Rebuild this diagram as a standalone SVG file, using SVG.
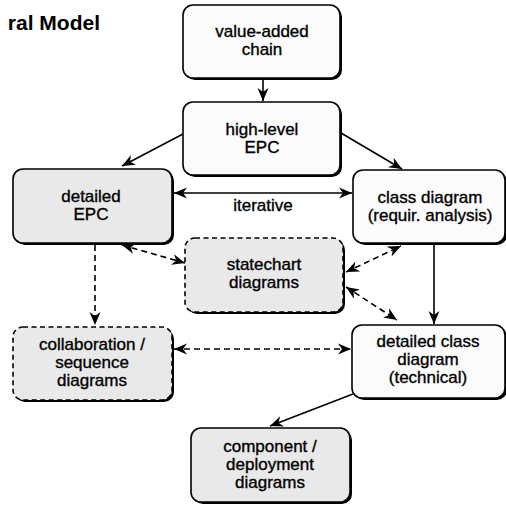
<svg xmlns="http://www.w3.org/2000/svg" width="506" height="506" viewBox="0 0 506 506">
<style>
.sh{fill:#000}
.bx{stroke:#000;stroke-width:1.6}
.w{fill:#fbfbfb}
.g{fill:#e9e9e9}
.d{stroke-dasharray:5 3.5}
.t{font-family:"Liberation Sans",Arial,sans-serif;font-size:17px;text-anchor:middle;fill:#000;stroke:#000;stroke-width:0.35}
.c{stroke:#000;stroke-width:1.6;fill:none}
.cd{stroke-dasharray:6 4}
</style>
<defs>
<marker id="ah" markerUnits="userSpaceOnUse" markerWidth="14" markerHeight="12" viewBox="0 0 14 12" refX="13" refY="6" orient="auto-start-reverse">
<path d="M0,0.5 L13,6 L0,11.5 L4,6 z" fill="#000"/>
</marker>
</defs>
<rect width="506" height="506" fill="#fff"/>
<text x="100" y="30" style="font-family:'Liberation Sans',Arial,sans-serif;font-size:21px;font-weight:bold;text-anchor:end">ral Model</text>

<g id="connectors">
<line class="c" x1="263" y1="79" x2="263" y2="101" marker-end="url(#ah)"/>
<line class="c" x1="183" y1="134" x2="122" y2="166" marker-end="url(#ah)"/>
<line class="c" x1="341" y1="133" x2="402" y2="169" marker-end="url(#ah)"/>
<line class="c" x1="174" y1="193" x2="352" y2="193" marker-start="url(#ah)" marker-end="url(#ah)"/>
<line class="c" x1="434" y1="245" x2="434" y2="324" marker-end="url(#ah)"/>
<line class="c cd" x1="122" y1="245" x2="185" y2="263" marker-start="url(#ah)" marker-end="url(#ah)"/>
<line class="c cd" x1="346" y1="272" x2="401" y2="246" marker-start="url(#ah)" marker-end="url(#ah)"/>
<line class="c cd" x1="346" y1="287" x2="397" y2="320" marker-start="url(#ah)" marker-end="url(#ah)"/>
<line class="c cd" x1="95" y1="245" x2="95" y2="325" marker-end="url(#ah)"/>
<line class="c cd" x1="174" y1="349" x2="351" y2="349" marker-start="url(#ah)" marker-end="url(#ah)"/>
<line class="c" x1="353" y1="394" x2="270" y2="426" marker-end="url(#ah)"/>
<text class="t" x="263" y="211">iterative</text>
</g>

<g id="value-added-chain">
<rect class="sh" x="185" y="7" width="157" height="73" rx="10"/>
<rect class="bx w" x="183" y="5" width="157" height="73" rx="10"/>
<text class="t" x="262" y="37">value-added</text>
<text class="t" x="262" y="55">chain</text>
</g>

<g id="high-level-epc">
<rect class="sh" x="185" y="104" width="157" height="73" rx="10"/>
<rect class="bx w" x="183" y="102" width="157" height="73" rx="10"/>
<text class="t" x="262" y="135">high-level</text>
<text class="t" x="262" y="153">EPC</text>
</g>

<g id="detailed-epc">
<rect class="sh" x="15" y="171" width="159" height="74" rx="10"/>
<rect class="bx g" x="13" y="169" width="159" height="74" rx="10"/>
<text class="t" x="91" y="202">detailed</text>
<text class="t" x="91" y="220">EPC</text>
</g>

<g id="class-diagram">
<rect class="sh" x="355" y="172" width="152" height="73" rx="10"/>
<rect class="bx w" x="353" y="170" width="152" height="73" rx="10"/>
<text class="t" x="430" y="203">class diagram</text>
<text class="t" x="430" y="221">(requir. analysis)</text>
</g>

<g id="statechart-diagrams">
<rect class="sh" x="187" y="240" width="158" height="74" rx="10"/>
<rect class="bx g d" x="185" y="238" width="158" height="74" rx="10"/>
<text class="t" x="264" y="270">statechart</text>
<text class="t" x="264" y="288">diagrams</text>
</g>

<g id="collaboration-sequence-diagrams">
<rect class="sh" x="15" y="329" width="159" height="73" rx="10"/>
<rect class="bx g d" x="13" y="327" width="159" height="73" rx="10"/>
<text class="t" x="92" y="350">collaboration /</text>
<text class="t" x="92" y="368">sequence</text>
<text class="t" x="92" y="386">diagrams</text>
</g>

<g id="detailed-class-diagram">
<rect class="sh" x="354" y="327" width="153" height="73" rx="10"/>
<rect class="bx w" x="352" y="325" width="153" height="73" rx="10"/>
<text class="t" x="428" y="347">detailed class</text>
<text class="t" x="428" y="365">diagram</text>
<text class="t" x="428" y="383">(technical)</text>
</g>

<g id="component-deployment-diagrams">
<rect class="sh" x="193" y="430" width="159" height="74" rx="10"/>
<rect class="bx g" x="191" y="428" width="159" height="74" rx="10"/>
<text class="t" x="270" y="452">component /</text>
<text class="t" x="270" y="470">deployment</text>
<text class="t" x="270" y="488">diagrams</text>
</g>
</svg>
